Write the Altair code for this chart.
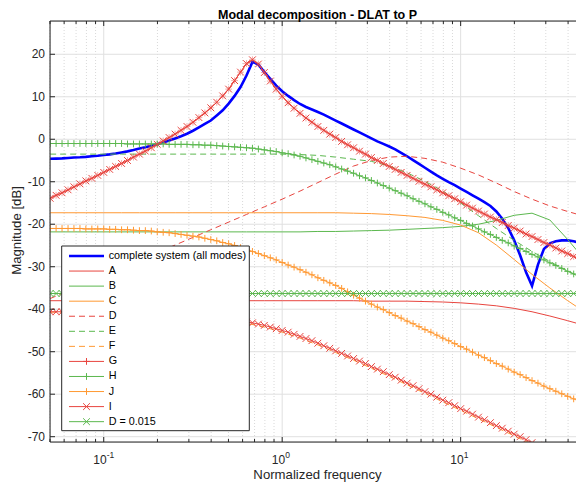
import math
import altair as alt
import pandas as pd

# ---------------- data ----------------
freq = [0.0501, 0.0541, 0.0584, 0.0631, 0.0681, 0.0736, 0.0794, 0.0858, 0.0926, 0.1,
        0.108, 0.1166, 0.1259, 0.1359, 0.1468, 0.1585, 0.1711, 0.1848, 0.1995, 0.2154,
        0.2326, 0.2512, 0.2712, 0.2929, 0.3162, 0.3415, 0.3687, 0.3981, 0.4299, 0.4642,
        0.5012, 0.5412, 0.5843, 0.631, 0.6813, 0.7356, 0.7943, 0.8577, 0.9261, 1.0,
        1.08, 1.166, 1.259, 1.359, 1.468, 1.585, 1.711, 1.848, 1.995, 2.154,
        2.326, 2.512, 2.712, 2.929, 3.162, 3.415, 3.687, 3.981, 4.299, 4.642,
        5.012, 5.412, 5.843, 6.31, 6.813, 7.356, 7.943, 8.577, 9.261, 10.0,
        10.8, 11.66, 12.59, 13.59, 14.68, 15.85, 17.11, 18.48, 19.95, 21.54,
        23.26, 25.12, 27.12, 29.29, 31.62, 34.15, 36.87, 39.81, 42.99, 46.42, 50.12]

freq_c = [0.0501, 0.0631, 0.0794, 0.1, 0.1259, 0.1585, 0.1995, 0.2512, 0.3162, 0.3981,
          0.5012, 0.631, 0.7943, 1.0, 1.259, 1.585, 1.995, 2.512, 3.162, 3.981,
          5.012, 6.31, 7.943, 10.0, 12.59, 15.85, 19.95, 25.12, 31.62, 39.81, 50.12]

complete = [-4.6, -4.55, -4.5, -4.4, -4.3, -4.25, -4.15, -4.0, -3.9, -3.7,
            -3.55, -3.35, -3.1, -2.85, -2.55, -2.2, -1.9, -1.55, -1.2, -0.75,
            -0.3, 0.2, 0.7, 1.3, 2.0, 2.8, 3.6, 4.4, 5.6, 6.8,
            8.4, 10.2, 12.3, 15.0, 18.2, 17.6, 15.8, 14.2, 12.6, 11.3,
            10.2, 9.2, 8.3, 7.6, 7.0, 6.4, 5.8, 5.1, 4.4, 3.7,
            3.0, 2.3, 1.6, 0.9, 0.2, -0.5, -1.1, -1.7, -2.4, -3.2,
            -4.0, -4.9, -5.8, -6.7, -7.6, -8.5, -9.3, -10.1, -10.8, -11.6,
            -12.4, -13.2, -14.0, -14.8, -15.7, -17.0, -18.7, -20.9, -23.8, -27.3,
            -31.3, -34.5, -29.5, -25.8, -24.5, -24.0, -23.8, -23.8, -24.0, -24.4, -24.9]

mode_A = [-38.0, -38.0, -38.0, -38.0, -38.0, -38.0, -38.0, -38.0, -38.0, -38.0,
          -38.0, -38.0, -38.0, -38.0, -38.0, -38.0, -38.0, -38.0, -38.1, -38.1,
          -38.1, -38.2, -38.3, -38.5, -38.8, -39.2, -39.8, -40.6, -41.6, -42.7, -43.9]

mode_B = [-21.8, -21.8, -21.8, -21.8, -21.8, -21.8, -21.8, -21.8, -21.8, -21.8,
          -21.8, -21.8, -21.8, -21.8, -21.8, -21.7, -21.7, -21.6, -21.5, -21.4,
          -21.2, -21.0, -20.8, -20.5, -20.0, -19.1, -17.9, -17.4, -19.0, -23.6, -28.6]

mode_C = [-17.3, -17.3, -17.3, -17.3, -17.3, -17.3, -17.3, -17.3, -17.3, -17.3,
          -17.3, -17.3, -17.3, -17.3, -17.3, -17.3, -17.3, -17.4, -17.5, -17.7,
          -18.0, -18.4, -19.1, -20.2, -22.0, -24.9, -28.3, -31.8, -35.0, -38.0, -40.8]

mode_D = [-37.5, -35.7, -33.9, -32.1, -30.3, -28.5, -26.7, -24.9, -23.1, -21.3,
          -19.5, -17.7, -15.9, -14.1, -12.2, -10.2, -8.2, -6.3, -5.0, -4.2,
          -4.0, -4.5, -5.4, -6.8, -8.4, -10.3, -12.3, -14.1, -15.7, -17.0, -18.2]

mode_E = [-3.5, -3.5, -3.5, -3.5, -3.5, -3.5, -3.5, -3.5, -3.5, -3.5,
          -3.5, -3.5, -3.5, -3.5, -3.6, -3.8, -4.2, -4.7, -5.2, -6.3,
          -7.9, -9.9, -12.2, -15.0, -18.0, -21.0, -23.8, -26.4, -28.8, -31.0, -33.0]

mode_F = [-40.7, -40.7, -40.7, -40.8, -40.9, -41.0, -41.2, -41.4, -41.7, -42.1,
          -42.6, -43.3, -44.2, -45.4, -46.8, -48.4, -50.2, -52.0, -53.9, -55.8,
          -57.8, -59.8, -61.8, -63.8, -65.8, -67.8, -69.8, -71.8]

mode_G = [-13.9, -13.2, -12.6, -11.9, -11.2, -10.5, -9.8, -9.2, -8.5, -7.8,
          -7.1, -6.4, -5.7, -5.0, -4.2, -3.5, -2.8, -2.0, -1.2, -0.4,
          0.4, 1.2, 2.1, 3.0, 4.0, 5.1, 6.2, 7.4, 8.7, 10.2,
          11.8, 13.8, 15.8, 17.8, 18.7, 17.7, 15.7, 13.7, 11.8, 10.1,
          8.6, 7.3, 6.1, 5.0, 4.0, 3.0, 2.1, 1.2, 0.4, -0.5,
          -1.3, -2.0, -2.8, -3.5, -4.3, -5.0, -5.7, -6.4, -7.1, -7.8,
          -8.5, -9.2, -9.9, -10.6, -11.2, -11.9, -12.6, -13.3, -14.0, -14.7,
          -15.5, -16.2, -16.9, -17.6, -18.3, -18.9, -19.6, -20.3, -20.9, -21.6,
          -22.3, -22.9, -23.6, -24.3, -24.9, -25.6, -26.3, -26.9, -27.6, -28.3, -28.9]

mode_I = mode_G  # drawn on top of G in the reference

mode_I_low = [-40.6, -40.6, -40.6, -40.6, -40.6, -40.6, -40.6, -40.7, -40.7, -40.7,
              -40.7, -40.7, -40.8, -40.8, -40.8, -40.9, -40.9, -41.0, -41.0, -41.1,
              -41.2, -41.2, -41.3, -41.4, -41.5, -41.6, -41.7, -41.8, -42.0, -42.1,
              -42.3, -42.5, -42.7, -43.0, -43.2, -43.5, -43.8, -44.2, -44.6, -45.0,
              -45.4, -45.9, -46.4, -46.9, -47.4, -48.0, -48.6, -49.2, -49.8, -50.4,
              -51.0, -51.6, -52.2, -52.8, -53.5, -54.1, -54.7, -55.4, -56.0, -56.7,
              -57.4, -58.0, -58.7, -59.4, -60.0, -60.7, -61.4, -62.0, -62.7, -63.4,
              -64.0, -64.7, -65.4, -66.0, -66.7, -67.4, -68.0, -68.7, -69.4, -70.0,
              -70.7, -71.4, -72.0]

mode_H = [-1.0, -1.0, -1.0, -1.0, -1.0, -1.0, -1.0, -1.0, -1.0, -1.0,
          -1.0, -1.0, -1.0, -1.1, -1.1, -1.1, -1.1, -1.1, -1.1, -1.1,
          -1.2, -1.2, -1.2, -1.2, -1.3, -1.3, -1.4, -1.4, -1.5, -1.6,
          -1.7, -1.8, -1.9, -2.0, -2.1, -2.3, -2.5, -2.7, -2.9, -3.2,
          -3.4, -3.7, -4.0, -4.4, -4.8, -5.2, -5.6, -6.0, -6.5, -7.0,
          -7.5, -8.0, -8.6, -9.1, -9.7, -10.3, -10.9, -11.5, -12.1, -12.7,
          -13.3, -14.0, -14.6, -15.2, -15.9, -16.5, -17.2, -17.8, -18.5, -19.1,
          -19.8, -20.4, -21.1, -21.8, -22.4, -23.1, -23.8, -24.4, -25.1, -25.7,
          -26.4, -27.1, -27.7, -28.4, -29.1, -29.7, -30.4, -31.1, -31.7, -32.4, -33.1]

mode_J = [-21.0, -21.0, -21.0, -21.0, -21.0, -21.0, -21.1, -21.1, -21.1, -21.1,
          -21.2, -21.2, -21.3, -21.3, -21.4, -21.5, -21.5, -21.6, -21.8, -21.9,
          -22.0, -22.2, -22.4, -22.6, -22.8, -23.0, -23.3, -23.6, -23.9, -24.3,
          -24.6, -25.0, -25.5, -25.9, -26.4, -26.9, -27.4, -27.9, -28.4, -29.0,
          -29.6, -30.1, -30.7, -31.3, -31.9, -32.6, -33.2, -33.8, -34.4, -35.1,
          -35.9, -36.7, -37.4, -38.1, -38.8, -39.5, -40.1, -40.8, -41.5, -42.1,
          -42.8, -43.4, -44.1, -44.8, -45.4, -46.1, -46.8, -47.4, -48.1, -48.8,
          -49.4, -50.1, -50.8, -51.4, -52.1, -52.8, -53.4, -54.1, -54.8, -55.4,
          -56.1, -56.8, -57.4, -58.1, -58.7, -59.3, -59.9, -60.5, -61.1, -61.7, -62.3]

mode_D015 = [-36.3, -36.3, -36.3, -36.3, -36.3, -36.3, -36.3, -36.3, -36.3, -36.3,
             -36.3, -36.3, -36.3, -36.3, -36.3, -36.3, -36.3, -36.3, -36.3, -36.3,
             -36.3, -36.3, -36.3, -36.3, -36.3, -36.3, -36.3, -36.3, -36.3, -36.3,
             -36.3, -36.3, -36.3, -36.3, -36.3, -36.3, -36.3, -36.3, -36.3, -36.3,
             -36.3, -36.3, -36.3, -36.3, -36.3, -36.3, -36.3, -36.3, -36.3, -36.3,
             -36.3, -36.3, -36.3, -36.3, -36.3, -36.3, -36.3, -36.3, -36.3, -36.3,
             -36.3, -36.3, -36.3, -36.3, -36.3, -36.3, -36.3, -36.3, -36.3, -36.3,
             -36.3, -36.3, -36.3, -36.3, -36.3, -36.3, -36.3, -36.3, -36.3, -36.3,
             -36.3, -36.3, -36.3, -36.3, -36.3, -36.3, -36.3, -36.3, -36.3, -36.3, -36.3]

legend_labels = ["complete system (all modes)", "A", "B", "C", "D", "E", "F",
                 "G", "H", "J", "I", "D = 0.015"]

y_ticks = [-70, -60, -50, -40, -30, -20, -10, 0, 10, 20]
x_major = [0.1, 1, 10]
x_minor = [0.05, 0.06, 0.07, 0.08, 0.09, 0.2, 0.3, 0.4, 0.5, 0.6, 0.7, 0.8, 0.9,
           2, 3, 4, 5, 6, 7, 8, 9, 20, 30, 40]
x_exponents = ["-1", "0", "1"]

title_text = "Modal decomposition - DLAT to P"
x_title = "Normalized frequency"
y_title = "Magnitude [dB]"

# ---------------- layout / style ----------------
# the reference's axes box runs past the right edge of the picture; the page only
# has room up to x = 576, so the frequency axis is shown up to that point.
TOP = 21                      # page y of the plot top
W, H = 526, 421
PAD = {"left": 42, "top": TOP - 8, "right": 0, "bottom": 40}
XDOM = [0.05, 44.3]
YDOM = [-71.25, 27.83]
FONT = "Liberation Sans"
INK = "#262626"

RED = "#e8453f"
GREEN = "#5cb84f"
ORANGE = "#ff9933"
BLUE = "#0000ff"

PLUS = "M-1,0L1,0M0,-1L0,1"
CROSS = "M-1,-1L1,1M-1,1L1,-1"

xs = alt.Scale(type="log", domain=XDOM)
ys = alt.Scale(domain=YDOM)
X = alt.X("f:Q", scale=xs, axis=None)
Y = alt.Y("db:Q", scale=ys, axis=None)


def p2f(px):
    a, b = math.log10(XDOM[0]), math.log10(XDOM[1])
    return 10 ** (a + px / W * (b - a))


def p2db(page_y):
    py = page_y - TOP
    return YDOM[1] - py / H * (YDOM[1] - YDOM[0])


one = pd.DataFrame({"t": [0]})
layers = []

# grid
layers.append(alt.Chart(pd.DataFrame({"f": x_minor})).mark_rule(
    color="#cfcfcf", strokeWidth=0.8, strokeDash=[1, 2]).encode(
    x=X, y=alt.value(0), y2=alt.value(H)))
layers.append(alt.Chart(pd.DataFrame({"f": x_major})).mark_rule(
    color="#e0e0e0", strokeWidth=1).encode(x=X, y=alt.value(0), y2=alt.value(H)))
layers.append(alt.Chart(pd.DataFrame({"db": y_ticks})).mark_rule(
    color="#e0e0e0", strokeWidth=1).encode(y=Y, x=alt.value(0), x2=alt.value(W)))

# curves: (f, values, color, width, dash, marker, marker opacity)
curves = [
    (freq, complete, BLUE, 2.6, None, None, 1),
    (freq_c, mode_A, RED, 1, None, None, 1),
    (freq_c, mode_B, GREEN, 1, None, None, 1),
    (freq_c, mode_C, ORANGE, 1, None, None, 1),
    (freq_c, mode_D, RED, 1, [6, 4], None, 1),
    (freq_c, mode_E, GREEN, 1, [6, 4], None, 1),
    (freq_c, mode_F, ORANGE, 1, [6, 4], None, 1),
    (freq, mode_G, RED, 1, None, PLUS, 0.45),
    (freq, mode_H, GREEN, 1, None, PLUS, 1),
    (freq, mode_J, ORANGE, 1, None, PLUS, 1),
    (freq, mode_I, RED, 1, None, CROSS, 1),
    (freq, mode_I_low, RED, 1, None, CROSS, 1),
    (freq, mode_D015, GREEN, 1, None, CROSS, 1),
]
for fx, vals, col, w, dash, marker, mop in curves:
    df = pd.DataFrame({"f": fx[:len(vals)], "db": vals})
    kw = dict(color=col, strokeWidth=w, clip=True)
    if dash:
        kw["strokeDash"] = dash
    layers.append(alt.Chart(df).mark_line(**kw).encode(x=X, y=Y))
    if marker:
        layers.append(alt.Chart(df).mark_point(
            shape=marker, size=46, filled=False, color=col, strokeWidth=1,
            opacity=mop, clip=True).encode(x=X, y=Y))

# legend (manual, MATLAB style) -- page pixel layout
leg_box = (11.7, 199.3, 246.0, 430.7)       # x relative to plot left, y page
row0, rowstep = 256.0, 15.06
s0, s1, sm, tx = 19.0, 54.0, 36.5, 58.7
leg_colors = [BLUE, RED, GREEN, ORANGE, RED, GREEN, ORANGE, RED, GREEN, ORANGE, RED, GREEN]
leg_width = [2.6] + [1] * 11
leg_dash = [False, False, False, False, True, True, True, False, False, False, False, False]
leg_marker = [None] * 7 + [PLUS, PLUS, PLUS, CROSS, CROSS]

layers.append(alt.Chart(pd.DataFrame({
    "f": [p2f(leg_box[0])], "f2": [p2f(leg_box[1])],
    "db": [p2db(leg_box[2])], "db2": [p2db(leg_box[3])]})).mark_rect(
    fill="white", stroke=INK, strokeWidth=1).encode(
    x=X, x2="f2:Q", y=Y, y2="db2:Q"))

leg = pd.DataFrame({
    "label": legend_labels,
    "db": [p2db(row0 + rowstep * i) for i in range(len(legend_labels))],
    "col": leg_colors, "w": leg_width, "dash": leg_dash,
    "shape": [m if m else "" for m in leg_marker],
    "f": p2f(s0), "f2": p2f(s1), "fm": p2f(sm), "ft": p2f(tx)})

layers.append(alt.Chart(leg[~leg["dash"]]).mark_rule().encode(
    x=X, x2="f2:Q", y=Y, color=alt.Color("col:N", scale=None),
    strokeWidth=alt.StrokeWidth("w:Q", scale=None)))
layers.append(alt.Chart(leg[leg["dash"]]).mark_rule(strokeDash=[6, 4], strokeWidth=1).encode(
    x=X, x2="f2:Q", y=Y, color=alt.Color("col:N", scale=None)))
layers.append(alt.Chart(leg[leg["shape"] != ""]).mark_point(
    size=46, filled=False, strokeWidth=1, opacity=1).encode(
    x=alt.X("fm:Q", scale=xs, axis=None), y=Y,
    shape=alt.Shape("shape:N", scale=None), color=alt.Color("col:N", scale=None)))
layers.append(alt.Chart(leg).mark_text(
    align="left", baseline="middle", fontSize=10.8, color="#000000", font=FONT).encode(
    x=alt.X("ft:Q", scale=xs, axis=None), y=Y, text="label:N"))

# axes box (left, top, bottom; the right side lies beyond the picture)
layers.append(alt.Chart(one).mark_rule(color=INK, strokeWidth=1).encode(
    x=alt.value(0), y=alt.value(0), y2=alt.value(H)))
layers.append(alt.Chart(one).mark_rule(color=INK, strokeWidth=1).encode(
    x=alt.value(0), x2=alt.value(W), y=alt.value(0)))
layers.append(alt.Chart(one).mark_rule(color=INK, strokeWidth=1).encode(
    x=alt.value(0), x2=alt.value(W), y=alt.value(H)))

# inward ticks
maj = pd.DataFrame({"f": x_major})
mnr = pd.DataFrame({"f": x_minor})
for d, L in ((maj, 5), (mnr, 3)):
    layers.append(alt.Chart(d).mark_rule(color=INK, strokeWidth=1).encode(
        x=X, y=alt.value(H), y2=alt.value(H - L)))
    layers.append(alt.Chart(d).mark_rule(color=INK, strokeWidth=1).encode(
        x=X, y=alt.value(0), y2=alt.value(L)))
ytd = pd.DataFrame({"db": y_ticks, "lab": [str(v) for v in y_ticks]})
layers.append(alt.Chart(ytd).mark_rule(color=INK, strokeWidth=1).encode(
    y=Y, x=alt.value(0), x2=alt.value(5)))

# tick labels
layers.append(alt.Chart(ytd).mark_text(
    align="right", baseline="middle", fontSize=12, color=INK, font=FONT).encode(
    x=alt.value(-5), y=Y, text="lab:N"))
xtd = pd.DataFrame({"f": x_major, "exp": x_exponents})
layers.append(alt.Chart(xtd).mark_text(
    align="right", baseline="alphabetic", fontSize=12, color=INK, font=FONT, dx=3).encode(
    x=X, y=alt.value(464 - TOP), text=alt.value("10")))
layers.append(alt.Chart(xtd).mark_text(
    align="left", baseline="alphabetic", fontSize=8.5, color=INK, font=FONT, dx=3).encode(
    x=X, y=alt.value(458 - TOP), text="exp:N"))

# titles (centred on the full reference axes box, 535 px wide)
CX = 535 / 2
layers.append(alt.Chart(one).mark_text(
    align="center", baseline="alphabetic", fontSize=12.5, fontWeight="bold",
    color="#000000", font=FONT).encode(
    x=alt.value(CX), y=alt.value(19.4 - TOP), text=alt.value(title_text)))
layers.append(alt.Chart(one).mark_text(
    align="center", baseline="alphabetic", fontSize=13.2, color=INK, font=FONT).encode(
    x=alt.value(CX), y=alt.value(479 - TOP), text=alt.value(x_title)))
layers.append(alt.Chart(one).mark_text(
    align="center", baseline="alphabetic", fontSize=13.2, color=INK, font=FONT, angle=270).encode(
    x=alt.value(-28.8), y=alt.value(230.5 - TOP), text=alt.value(y_title)))

chart = alt.layer(*layers).properties(
    width=W, height=H,
    padding=PAD,
    autosize=alt.AutoSizeParams(type="none"),
).configure_view(stroke=None).configure(font=FONT)

chart.save("out.html", embed_options={"renderer": "svg", "actions": False})
